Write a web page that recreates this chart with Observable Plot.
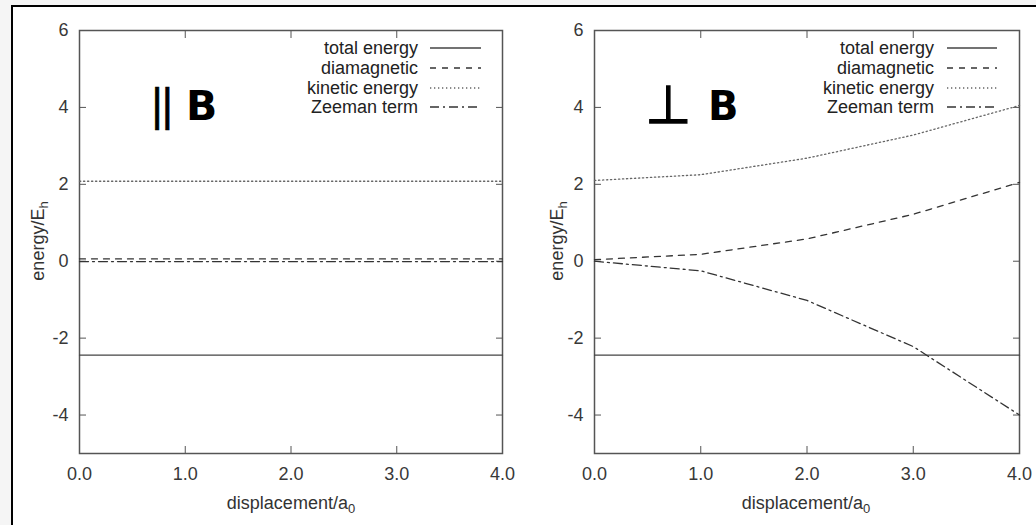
<!DOCTYPE html>
<html><head><meta charset="utf-8">
<script src="https://cdn.jsdelivr.net/npm/d3@7"></script>
<script src="https://cdn.jsdelivr.net/npm/@observablehq/plot@0.6"></script>
<style>
body{margin:0;background:#f5f5f5;}
#page{position:relative;width:1036px;height:525px;overflow:hidden;background:#f5f5f5;font-family:"Liberation Sans",Arial,sans-serif;}
#box{position:absolute;left:11px;top:5px;width:1100px;height:600px;background:#fff;border:2px solid #000;box-sizing:border-box;}
.panel{position:absolute;top:0;}
#ov{position:absolute;left:0;top:0;pointer-events:none;}
</style></head>
<body>
<div id="page"><div id="box"></div><div id="left" class="panel" style="left:0"></div><div id="right" class="panel" style="left:518px"></div></div>
<script>
// ---- data ----
const displacement = [0, 1, 2, 3, 4];
const seriesNames = ["total energy", "diamagnetic", "kinetic energy", "Zeeman term"];
const xTicks = [0, 1, 2, 3, 4];
const yTicks = [-4, -2, 0, 2, 4, 6];
// parallel to B
const parTotal       = [-2.44, -2.44, -2.44, -2.44, -2.44];
const parDiamagnetic = [0.06, 0.06, 0.06, 0.06, 0.06];
const parKinetic     = [2.08, 2.08, 2.08, 2.08, 2.08];
const parZeeman      = [-0.01, -0.01, -0.01, -0.01, -0.01];
// perpendicular to B
const perpTotal       = [-2.44, -2.44, -2.44, -2.44, -2.44];
const perpDiamagnetic = [0.04, 0.18, 0.58, 1.22, 2.05];
const perpKinetic     = [2.1, 2.25, 2.68, 3.28, 4.05];
const perpZeeman      = [0.0, -0.25, -1.02, -2.22, -4.0];

const dashes = [null, "6,6", "1.3,2.7", "9,4,2,4"];
const strokes = ["#444", "#333", "#666", "#333"];

function panel(vals, ml, mr) {
  const marks = [
    Plot.frame({stroke: "#555", strokeWidth: 1.5}),
    Plot.axisX({anchor: "bottom", ticks: xTicks, tickFormat: d3.format(".1f"), tickSize: 0, tickPadding: 14, label: null, fill: "#383838"}),
    Plot.axisX({anchor: "bottom", ticks: [1, 2, 3], tickSize: 7, dy: -7, fill: null, label: null, stroke: "#555"}),
    Plot.axisX({anchor: "top", ticks: [1, 2, 3], tickSize: 7, dy: 7, fill: null, label: null, stroke: "#555"}),
    Plot.axisY({anchor: "left", ticks: yTicks, tickFormat: d => String(d), tickSize: 0, tickPadding: 11, label: null, fill: "#383838"}),
    Plot.axisY({anchor: "left", ticks: [-4, -2, 0, 2, 4], tickSize: 7, dx: 7, fill: null, label: null, stroke: "#555"}),
    Plot.axisY({anchor: "right", ticks: [-4, -2, 0, 2, 4], tickSize: 7, dx: -7, fill: null, label: null, stroke: "#555"})
  ];
  seriesNames.forEach((name, i) => {
    const rows = displacement.map((x, j) => ({series: name, x, y: vals[i][j]}));
    marks.push(Plot.line(rows, {x: "x", y: "y", stroke: strokes[i], strokeWidth: 1.3, strokeDasharray: dashes[i] || undefined}));
  });
  return Plot.plot({
    width: 518, height: 525,
    marginLeft: ml, marginRight: mr, marginTop: 30, marginBottom: 72,
    x: {domain: [0, 4]},
    y: {domain: [-5, 6]},
    style: {background: "transparent", fontFamily: "'Liberation Sans', Arial, sans-serif", fontSize: "18px", color: "#333", overflow: "visible"},
    marks
  });
}

document.getElementById("left").append(panel([parTotal, parDiamagnetic, parKinetic, parZeeman], 79, 16));
document.getElementById("right").append(panel([perpTotal, perpDiamagnetic, perpKinetic, perpZeeman], 76, 17));

// ---- overlay: legends, annotations, axis titles ----
const NS = "http://www.w3.org/2000/svg";
const ov = document.createElementNS(NS, "svg");
ov.setAttribute("id", "ov");
ov.setAttribute("width", 1036);
ov.setAttribute("height", 525);
ov.setAttribute("font-family", "'Liberation Sans', Arial, sans-serif");
document.getElementById("page").append(ov);
function el(tag, attrs, text) {
  const e = document.createElementNS(NS, tag);
  for (const k in attrs) e.setAttribute(k, attrs[k]);
  if (text != null) e.textContent = text;
  ov.append(e);
  return e;
}
function legend(textRight, x1, x2) {
  const ys = [48, 68, 88, 107];
  seriesNames.forEach((name, i) => {
    el("text", {x: textRight, y: ys[i] + 6, "text-anchor": "end", "font-size": 18, fill: "#222"}, name);
    const l = el("line", {x1, x2, y1: ys[i], y2: ys[i], stroke: strokes[i], "stroke-width": 1.3});
    if (dashes[i]) l.setAttribute("stroke-dasharray", dashes[i]);
  });
}
legend(418, 430, 481);
legend(934, 947, 997);

el("text", {x: 150, y: 120, "font-family": "DejaVu Sans", "font-size": 42, "letter-spacing": -4, fill: "#000", stroke: "#000", "stroke-width": 0.6}, "||");
el("text", {x: 186, y: 120, "font-family": "DejaVu Sans", "font-weight": "bold", "font-size": 41, fill: "#000"}, "B");
el("text", {x: 645, y: 123, "font-family": "DejaVu Sans", "font-size": 53, fill: "#000", stroke: "#000", "stroke-width": 1.3}, "\u22A5");
el("text", {x: 708, y: 120, "font-family": "DejaVu Sans", "font-weight": "bold", "font-size": 40, fill: "#000"}, "B");

function ylab(x) {
  const t = el("text", {transform: `translate(${x},241) rotate(-90)`, "text-anchor": "middle", "font-size": 18, fill: "#333"});
  const a = document.createElementNS(NS, "tspan"); a.textContent = "energy/E"; t.append(a);
  const b = document.createElementNS(NS, "tspan"); b.textContent = "h"; b.setAttribute("dy", 4); b.setAttribute("font-size", 13); t.append(b);
}
function xlab(x) {
  const t = el("text", {x, y: 509, "text-anchor": "middle", "font-size": 18, fill: "#333"});
  const a = document.createElementNS(NS, "tspan"); a.textContent = "displacement/a"; t.append(a);
  const b = document.createElementNS(NS, "tspan"); b.textContent = "0"; b.setAttribute("dy", 4); b.setAttribute("font-size", 13); t.append(b);
}
ylab(44); ylab(563);
xlab(291); xlab(806);
</script>
</body></html>
